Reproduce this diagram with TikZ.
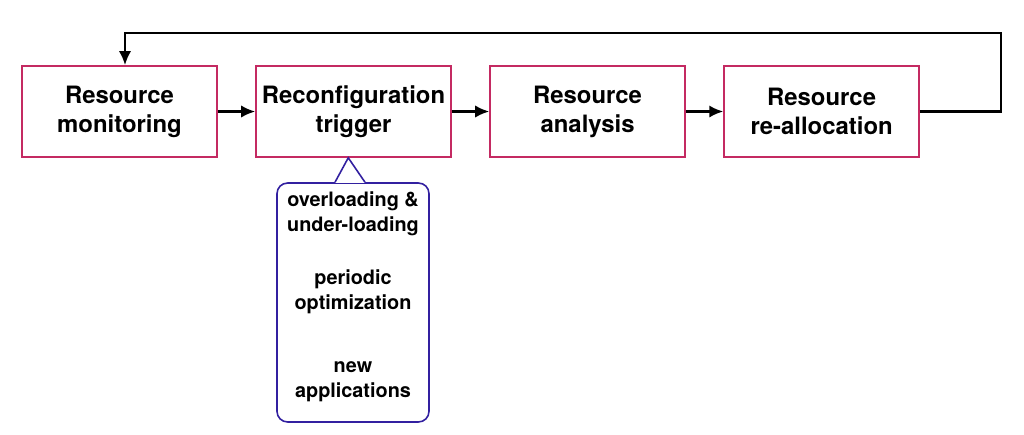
\documentclass[tikz,border=0pt]{standalone}
\usepackage{fontspec}
\setmainfont{TeX Gyre Heros}
\usetikzlibrary{arrows.meta, positioning, calc}

\definecolor{boxred}{RGB}{196,42,98}
\definecolor{callblue}{RGB}{50,32,160}

\begin{document}
\begin{tikzpicture}[x=0.02cm, y=-0.02cm]
  % Define styles
  \tikzset{
    stage/.style = {draw=boxred, line width=0.9pt, minimum width=3.9cm, minimum height=1.82cm,
                    align=center, font=\bfseries\fontsize{13.6}{16.5}\selectfont, inner sep=0pt},
    flow/.style  = {draw, line width=1.4pt, -{Latex[length=8pt, width=7pt]}},
    note/.style  = {align=center, font=\bfseries\fontsize{11.3}{14.2}\selectfont, inner sep=0pt}
  }
  \useasboundingbox (0,0) rectangle (1024,434);

  % Stages
  \node[stage] (monitor) at (119.5,111.5) {Resource\\monitoring};
  \node[stage, right=0.75cm of monitor] (trigger) {Reconfiguration\\trigger};
  \node[stage, right=0.75cm of trigger] (analysis) {Resource\\analysis};
  \node[stage, right=0.75cm of analysis] (realloc) {Resource\\re-allocation};

  % Connect stages
  \draw[flow] (monitor) -- (trigger);
  \draw[flow] (trigger) -- (analysis);
  \draw[flow] (analysis) -- (realloc);
  \coordinate (loopR) at (1001,33);
  \draw[flow] (realloc.east) -| (loopR) -| ([xshift=0.11cm]monitor.north);

  % Callout with trigger reasons
  \node[draw=callblue, line width=0.9pt, rounded corners=6pt, minimum width=3.04cm,
        minimum height=4.78cm] (reasons) at (353,302.5) {};
  \coordinate (tipL) at ($(reasons.north)+(-18,0)$);
  \coordinate (tipR) at ($(reasons.north)+(12,0)$);
  \fill[white] ([yshift=-0.4pt]tipL) -- ([xshift=-3pt]trigger.south) -- ([yshift=-0.4pt]tipR) -- cycle;
  \draw[callblue, line width=0.9pt, line join=miter] (tipL) -- ([xshift=-3pt]trigger.south) -- (tipR);

  \node[note] (overload) at (353,214) {overloading \&\\under-loading};
  \node[note] (periodic) at (353,292) {periodic\\optimization};
  \node[note] (newapps) at (353,382) {new\\applications};
\end{tikzpicture}
\end{document}
